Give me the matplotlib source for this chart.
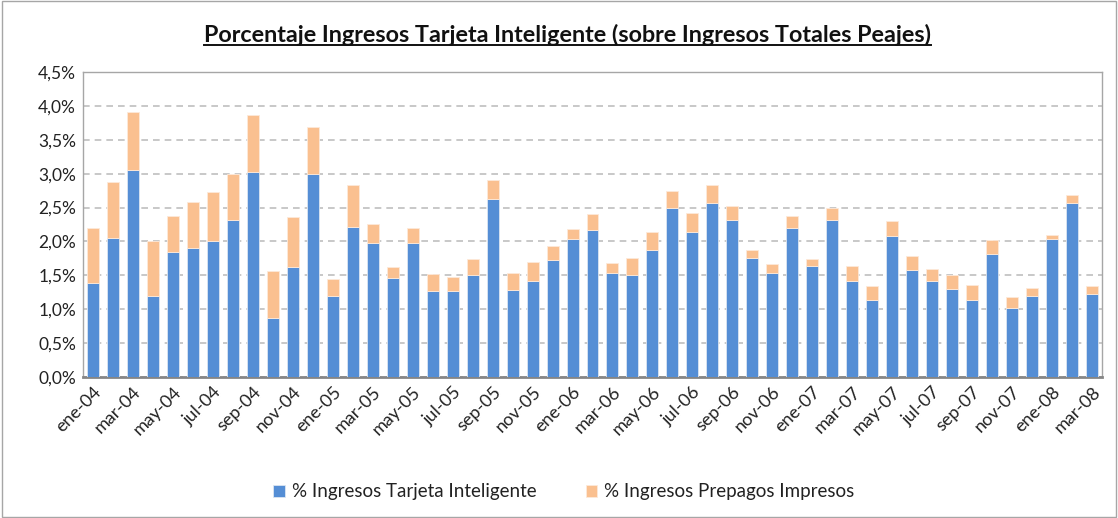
import numpy as np
import matplotlib
matplotlib.use('Agg')
import matplotlib.pyplot as plt
from matplotlib.patches import Rectangle
from matplotlib.lines import Line2D

plt.rcParams['font.family'] = ['Lato', 'DejaVu Sans']

# meses ene-04 .. mar-08
meses_abr = ['ene', 'feb', 'mar', 'abr', 'may', 'jun',
             'jul', 'ago', 'sep', 'oct', 'nov', 'dic']
meses = []
for anio in ['04', '05', '06', '07', '08']:
    for m in meses_abr:
        meses.append(m + '-' + anio)
meses = meses[:51]

# % Ingresos Tarjeta Inteligente
tarjeta = [1.39, 2.05, 3.05, 1.20, 1.84, 1.90, 2.00, 2.32, 3.03, 0.87, 1.62, 2.99,
           1.20, 2.22, 1.98, 1.46, 1.98, 1.27, 1.27, 1.50, 2.63, 1.28, 1.42, 1.72,
           2.03, 2.17, 1.54, 1.50, 1.88, 2.50, 2.14, 2.57, 2.32, 1.76, 1.54, 2.20,
           1.64, 2.32, 1.42, 1.14, 2.08, 1.58, 1.42, 1.30, 1.14, 1.82, 1.02, 1.20,
           2.03, 2.57, 1.22]
# total (tarjeta + prepagos)
total = [2.20, 2.87, 3.91, 2.00, 2.38, 2.58, 2.73, 2.99, 3.87, 1.56, 2.36, 3.69,
         1.44, 2.83, 2.26, 1.62, 2.20, 1.52, 1.48, 1.74, 2.91, 1.54, 1.70, 1.94,
         2.18, 2.40, 1.68, 1.76, 2.14, 2.75, 2.42, 2.83, 2.53, 1.88, 1.66, 2.38,
         1.74, 2.50, 1.64, 1.34, 2.30, 1.78, 1.60, 1.50, 1.36, 2.02, 1.18, 1.32,
         2.10, 2.69, 1.34]
prepagos = [round(t - a, 2) for t, a in zip(total, tarjeta)]

yticks = [0.0, 0.5, 1.0, 1.5, 2.0, 2.5, 3.0, 3.5, 4.0, 4.5]

azul = '#558ED5'
naranja = '#FAC090'

fig = plt.figure(figsize=(11.18, 5.18), dpi=100)
ax = fig.add_axes([83/1118, 1 - 377/518, (1102 - 83)/1118, (377 - 72)/518])

x = np.arange(len(meses))
ax.bar(x, tarjeta, width=0.6, color=azul, edgecolor='#DCE6F2', linewidth=0.6,
       label='% Ingresos Tarjeta Inteligente', zorder=3)
ax.bar(x, prepagos, width=0.6, bottom=tarjeta, color=naranja, edgecolor='#FDE9D9',
       linewidth=0.6, label='% Ingresos Prepagos Impresos', zorder=3)

ax.set_xlim(-0.5, len(meses) - 0.5)
ax.set_ylim(0, 4.5)
ax.set_yticks(yticks)
ax.set_yticklabels([('%.1f%%' % v).replace('.', ',') for v in yticks], fontsize=12.5)
ax.yaxis.grid(True, linestyle=(0, (4, 3)), color='#BFBFBF', linewidth=1.2, zorder=0)
ax.tick_params(axis='y', length=0, pad=5, colors='#222222')

ax.set_xticks(x[::2])
ax.set_xticklabels(meses[::2], rotation=45, ha='right', rotation_mode='anchor',
                   fontsize=13, color='#222222')
ax.tick_params(axis='x', length=0, pad=5)

for s in ['top', 'right', 'left']:
    ax.spines[s].set_color('#A6A6A6')
    ax.spines[s].set_linewidth(1.0)
ax.spines['bottom'].set_color('#868686')
ax.spines['bottom'].set_linewidth(2.0)

leg = fig.legend(loc='center', bbox_to_anchor=(564/1118, 1 - 492/518), ncol=2,
                 frameon=False, fontsize=13.5, handlelength=0.6, handleheight=0.6,
                 columnspacing=2.6, handletextpad=0.4)
for txt in leg.get_texts():
    txt.set_color('#222222')

t = fig.text(567/1118, 1 - 35/518, 'Porcentaje Ingresos Tarjeta Inteligente (sobre Ingresos Totales Peajes)',
             ha='center', va='center', fontsize=16.8, fontweight='bold', color='#111111')
fig.canvas.draw()
bb = t.get_window_extent().transformed(fig.transFigure.inverted())
fig.add_artist(Line2D([bb.x0, bb.x1], [bb.y0 + 0.002, bb.y0 + 0.002],
                      transform=fig.transFigure, color='#111111', linewidth=1.4))

fig.add_artist(Rectangle((0.002, 0.002), 0.996, 0.996, transform=fig.transFigure,
                         fill=False, edgecolor='#A6A6A6', linewidth=1.0))

fig.savefig('out.png', dpi=100)
